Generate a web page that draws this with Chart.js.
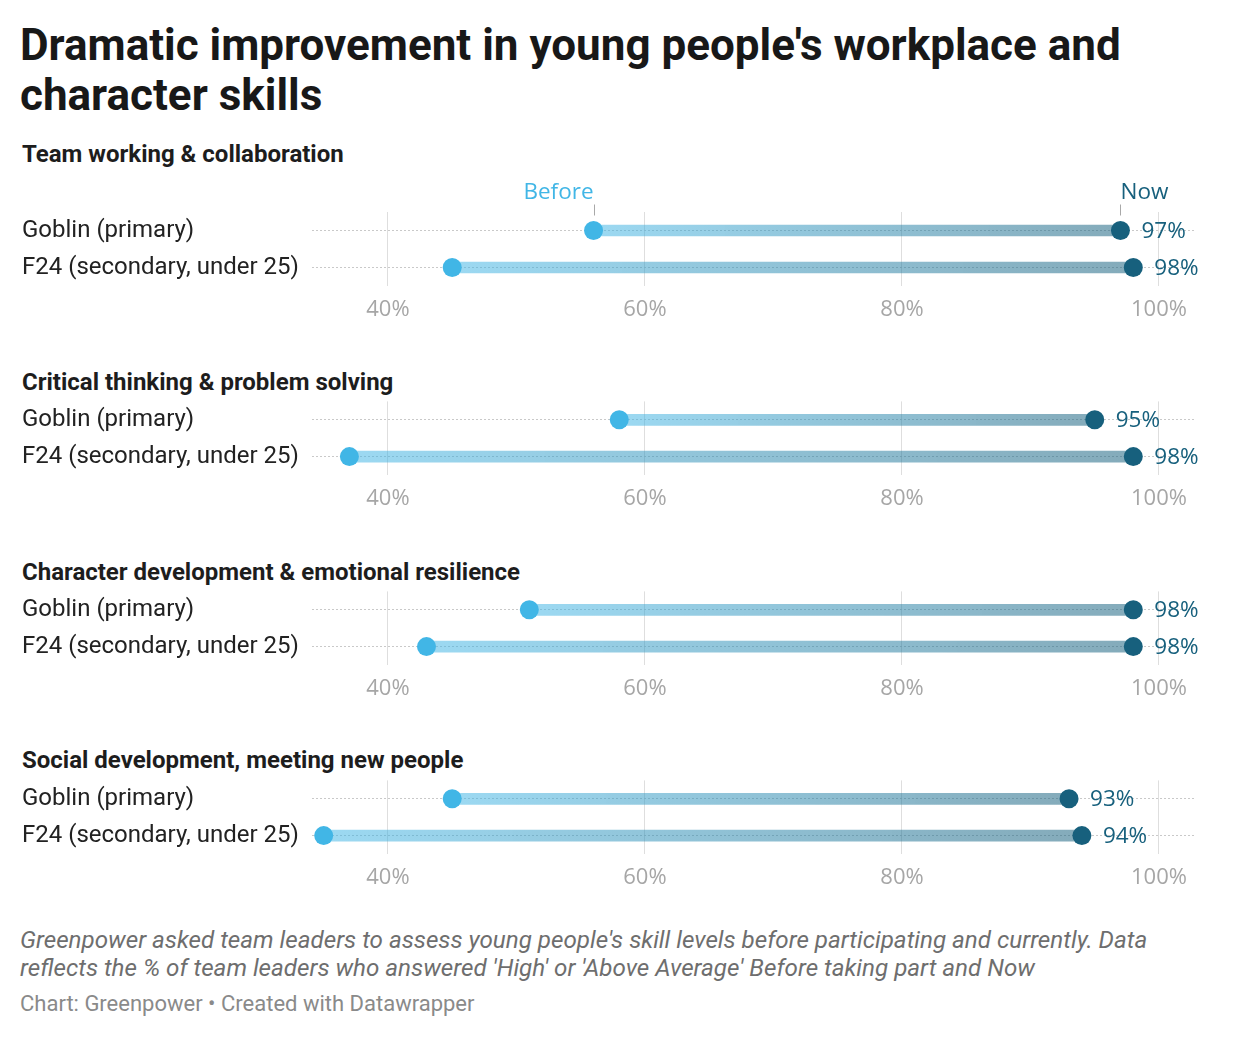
<!DOCTYPE html>
<html>
<head>
<meta charset="utf-8">
<script src="https://cdn.jsdelivr.net/npm/chart.js@4.4.1/dist/chart.umd.min.js"></script>
<style>
  html,body{margin:0;padding:0;background:#fff;}
  body{width:1240px;height:1040px;position:relative;overflow:hidden;font-family:Roboto,"Noto Sans",sans-serif;}
  .title{position:absolute;left:20px;top:20px;font-weight:700;font-size:44px;line-height:50px;color:#181818;white-space:nowrap;}
  .ph{position:absolute;left:22px;font-weight:700;font-size:24px;color:#1d1d1d;line-height:28px;white-space:nowrap;}
  .note{position:absolute;left:20px;top:926px;font-style:italic;font-size:24.2px;line-height:28px;color:#6e6e6e;white-space:nowrap;}
  .src{position:absolute;left:20px;top:992px;font-size:22px;line-height:24px;color:#8a8a8a;white-space:nowrap;}
  canvas{position:absolute;left:0;}
</style>
</head>
<body>
<div class="title">Dramatic improvement in young people's workplace and<br>character skills</div>
<div class="note">Greenpower asked team leaders to assess young people's skill levels before participating and currently. Data<br>reflects the % of team leaders who answered 'High' or 'Above Average' Before taking part and Now</div>
<div class="src">Chart: Greenpower • Created with Datawrapper</div>
<script>
// ---- data ----
const panelTitles = [
  "Team working & collaboration",
  "Critical thinking & problem solving",
  "Character development & emotional resilience",
  "Social development, meeting new people"
];
const rowLabels = ["Goblin (primary)", "F24 (secondary, under 25)"];
const seriesNames = ["Before", "Now"];
const teamBefore = [56, 45];
const teamNow = [97, 98];
const criticalBefore = [58, 37];
const criticalNow = [95, 98];
const characterBefore = [51, 43];
const characterNow = [98, 98];
const socialBefore = [45, 35];
const socialNow = [93, 94];
const xTicks = [40, 60, 80, 100];

const beforeSets = [teamBefore, criticalBefore, characterBefore, socialBefore];
const nowSets = [teamNow, criticalNow, characterNow, socialNow];

// ---- layout ----
const chartTops = [211.5, 400.5, 590.5, 779.5];
const headerTops = [140, 368, 558, 746];
const AREA_H = 74, XAXIS_H = 40;
const BEFORE_C = '#41b6e6', NOW_C = '#17607d';
const LABEL_FONT = '"Open Sans", "Noto Sans", sans-serif';

panelTitles.forEach((t, p) => {
  const h = document.createElement('div');
  h.className = 'ph';
  h.style.top = headerTops[p] + 'px';
  h.textContent = t;
  document.body.appendChild(h);

  const padTop = p === 0 ? 56 : 14;
  const cv = document.createElement('canvas');
  const H = padTop + AREA_H + XAXIS_H;
  cv.width = 1240; cv.height = H;
  cv.style.width = '1240px'; cv.style.height = H + 'px';
  cv.style.top = (chartTops[p] - padTop) + 'px';
  document.body.appendChild(cv);

  const before = beforeSets[p], now = nowSets[p];

  const labelPlugin = {
    id: 'labels' + p,
    afterDatasetsDraw(chart) {
      const ctx = chart.ctx, xs = chart.scales.x, ys = chart.scales.y;
      ctx.save();
      ctx.font = '22.5px ' + LABEL_FONT;
      ctx.fillStyle = NOW_C;
      ctx.textAlign = 'left';
      ctx.textBaseline = 'middle';
      now.forEach((v, i) => {
        ctx.fillText(v + '%', xs.getPixelForValue(v) + 21, ys.getPixelForValue(i) + 1);
      });
      if (p === 0) {
        const y0 = ys.getPixelForValue(0);
        const bx = xs.getPixelForValue(before[0]);
        const nx = xs.getPixelForValue(now[0]);
        ctx.strokeStyle = '#a8a8a8';
        ctx.lineWidth = 1;
        [bx, nx].forEach(x => {
          ctx.beginPath();
          ctx.moveTo(Math.round(x) + 0.5, y0 - 26);
          ctx.lineTo(Math.round(x) + 0.5, y0 - 15);
          ctx.stroke();
        });
        ctx.font = '22.5px ' + LABEL_FONT;
        ctx.textBaseline = 'middle';
        ctx.fillStyle = BEFORE_C;
        ctx.textAlign = 'right';
        ctx.fillText(seriesNames[0], bx, y0 - 38);
        ctx.fillStyle = NOW_C;
        ctx.textAlign = 'left';
        ctx.fillText(seriesNames[1], nx, y0 - 38);
      }
      ctx.restore();
    }
  };

  new Chart(cv, {
    type: 'bar',
    data: {
      labels: rowLabels,
      datasets: [
        {
          type: 'line',
          label: seriesNames[1],
          data: now,
          showLine: false,
          pointRadius: 9.5,
          pointHoverRadius: 9.5,
          pointBackgroundColor: NOW_C,
          pointBorderWidth: 0,
          clip: false,
          order: 0
        },
        {
          type: 'line',
          label: seriesNames[0],
          data: before,
          showLine: false,
          pointRadius: 9.5,
          pointHoverRadius: 9.5,
          pointBackgroundColor: BEFORE_C,
          pointBorderWidth: 0,
          clip: false,
          order: 1
        },
        {
          type: 'bar',
          label: 'range',
          data: before.map((b, i) => [b, now[i]]),
          barThickness: 11,
          borderWidth: 0,
          borderSkipped: false,
          order: 3,
          backgroundColor(c) {
            const chart = c.chart, xs = chart.scales.x;
            if (c.type !== 'data' || !xs || !c.raw) return 'rgba(120,180,205,0.5)';
            const x0 = xs.getPixelForValue(c.raw[0]);
            const x1 = xs.getPixelForValue(c.raw[1]);
            if (!isFinite(x0) || !isFinite(x1)) return 'rgba(120,180,205,0.5)';
            const g = chart.ctx.createLinearGradient(x0, 0, x1, 0);
            g.addColorStop(0, 'rgba(65,182,230,0.52)');
            g.addColorStop(1, 'rgba(23,96,125,0.53)');
            return g;
          }
        }
      ]
    },
    options: {
      responsive: false,
      animation: false,
      devicePixelRatio: 1,
      indexAxis: 'y',
      events: [],
      layout: { padding: { left: 22, right: 44, top: padTop, bottom: 0 } },
      plugins: { legend: { display: false }, tooltip: { enabled: false } },
      scales: {
        x: {
          type: 'linear',
          min: 34.09,
          max: 102.88,
          afterBuildTicks(s) { s.ticks = xTicks.map(v => ({ value: v })); },
          afterFit(s) { s.height = XAXIS_H; },
          ticks: {
            padding: 11,
            color: '#a6a6a6',
            font: { family: LABEL_FONT, size: 22 },
            callback: v => v + '%',
            maxRotation: 0
          },
          grid: { color: '#dedede', lineWidth: 1, drawTicks: false },
          border: { display: false }
        },
        y: {
          type: 'category',
          offset: true,
          afterFit(s) { s.width = 290; },
          ticks: {
            crossAlign: 'far',
            padding: 0,
            color: '#222',
            font: { family: 'Roboto', size: 24 }
          },
          grid: { offset: false, color: '#c9c9c9', lineWidth: 1, drawTicks: false },
          border: { display: false, dash: [2, 2] }
        }
      }
    },
    plugins: [labelPlugin]
  });
});
</script>
</body>
</html>
